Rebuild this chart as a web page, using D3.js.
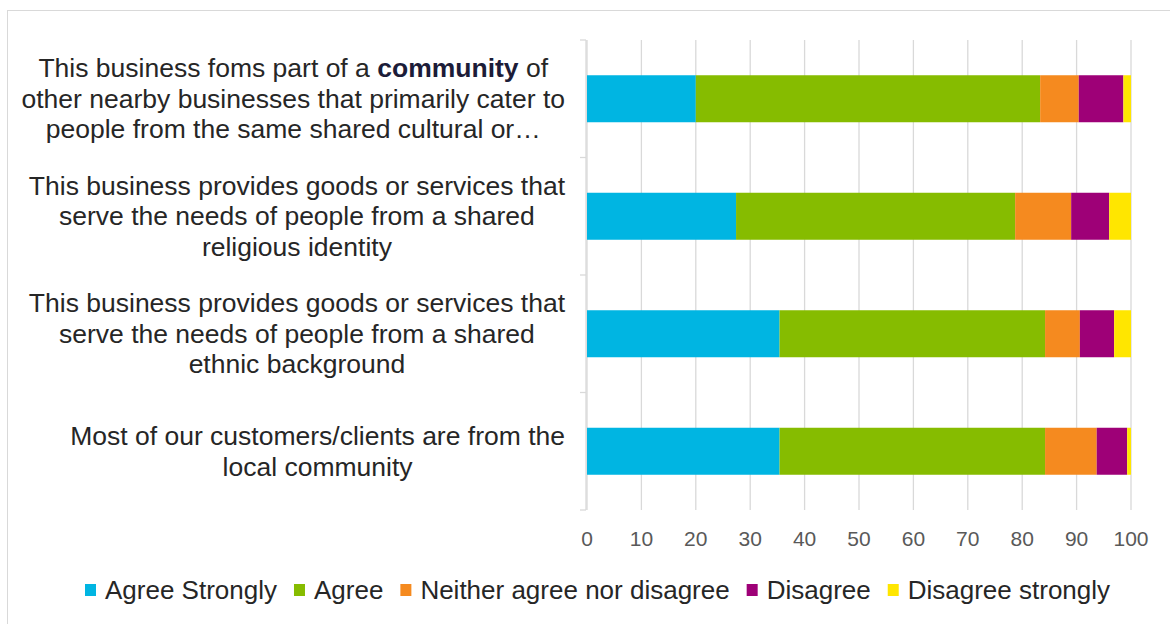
<!DOCTYPE html>
<html><head><meta charset="utf-8">
<script src="https://cdn.jsdelivr.net/npm/d3@7"></script>
<style>body{margin:0;background:#fff}svg{display:block}</style>
</head><body>
<svg id="c" width="1170" height="624"></svg>
<script>
const categories = [
  ["This business foms part of a community of","other nearby businesses that primarily cater to","people from the same shared cultural or…"],
  ["This business provides goods or services that","serve the needs of people from a shared","religious identity"],
  ["This business provides goods or services that","serve the needs of people from a shared","ethnic background"],
  ["Most of our customers/clients are from the","local community"]
];
const seriesNames = ["Agree Strongly","Agree","Neither agree nor disagree","Disagree","Disagree strongly"];
const agreeStrongly = [20.0, 27.4, 35.4, 35.4];
const agree = [63.3, 51.3, 48.8, 48.8];
const neither = [7.1, 10.3, 6.4, 9.5];
const disagree = [8.2, 7.0, 6.3, 5.6];
const disagreeStrongly = [1.4, 4.0, 3.1, 0.7];
const xTicks = [0,10,20,30,40,50,60,70,80,90,100];
const colors = ["#00B5E2","#86BC00","#F58A1F","#9E0077","#FFE600"];

const svg = d3.select("#c");
const font = "'Liberation Sans', Arial, sans-serif";
svg.append("rect").attr("x",7.5).attr("y",10.5).attr("width",1180).attr("height",640)
  .attr("fill","#fff").attr("stroke","#d9d9d9");

const x = d3.scaleLinear().domain([0,100]).range([587,1131]);
const y = d3.scaleBand().domain(d3.range(categories.length)).range([40,510]).paddingInner(0.6).paddingOuter(0.3);

const rows = categories.map((c,i)=>({i, vals:[agreeStrongly[i],agree[i],neither[i],disagree[i],disagreeStrongly[i]]}));
const stackData = rows.map(r=>{const o={i:r.i}; seriesNames.forEach((s,k)=>o[s]=r.vals[k]); return o;});
const stacked = d3.stack().keys(seriesNames)(stackData);

// gridlines
svg.append("g").selectAll("line").data(xTicks).join("line")
  .attr("x1",d=>x(d)).attr("x2",d=>x(d)).attr("y1",40).attr("y2",510)
  .attr("stroke","#d9d9d9").attr("stroke-width",1.3);

// left axis
const step = (510-40)/categories.length;
svg.append("line").attr("x1",586).attr("x2",586).attr("y1",40).attr("y2",510).attr("stroke","#d9d9d9").attr("stroke-width",1.3);
svg.append("g").selectAll("line").data(d3.range(categories.length+1)).join("line")
  .attr("x1",580).attr("x2",586).attr("y1",d=>40+d*step).attr("y2",d=>40+d*step)
  .attr("stroke","#d9d9d9").attr("stroke-width",1.3);

// bars
svg.append("g").selectAll("g").data(stacked).join("g").attr("fill",(d,k)=>colors[k])
  .selectAll("rect").data(d=>d).join("rect")
  .attr("x",d=>x(d[0])).attr("width",d=>x(d[1])-x(d[0]))
  .attr("y",d=>y(d.data.i)).attr("height",y.bandwidth());

// x tick labels
svg.append("g").selectAll("text").data(xTicks).join("text")
  .attr("x",d=>x(d)).attr("y",546).attr("text-anchor","middle")
  .attr("font-family",font).attr("font-size",21).attr("fill","#595959").text(d=>d);

// category labels
const lh = 30.5, rightEdge = 565, fs = 26.5;
categories.forEach((lines,i)=>{
  const cy = y(i)+y.bandwidth()/2;
  const g = svg.append("g");
  const texts = lines.map((ln,j)=>{
    const t = g.append("text")
      .attr("y", cy + (j-(lines.length-1)/2)*lh + 9)
      .attr("text-anchor","middle").attr("font-family",font).attr("font-size",fs)
      .attr("fill","#262626");
    const parts = ln.split(/(community)(?= of$)/);
    parts.forEach(p=>{
      if(!p) return;
      const ts = t.append("tspan").text(p);
      if(p==="community" && i===0 && j===0) ts.attr("font-weight","bold").attr("fill","#1c1c38");
    });
    return t;
  });
  const maxW = d3.max(texts, t=>t.node().getComputedTextLength());
  texts.forEach(t=>t.attr("x", rightEdge - maxW/2));
});

// legend
const lg = svg.append("g");
let lx = 85;
seriesNames.forEach((s,k)=>{
  lg.append("rect").attr("x",lx).attr("y",584).attr("width",11).attr("height",12).attr("fill",colors[k]);
  const t = lg.append("text").attr("x",lx+20).attr("y",599).attr("font-family",font).attr("font-size",26)
    .attr("fill","#262626").text(s);
  lx += 20 + t.node().getComputedTextLength() + 17;
});
</script>
</body></html>
